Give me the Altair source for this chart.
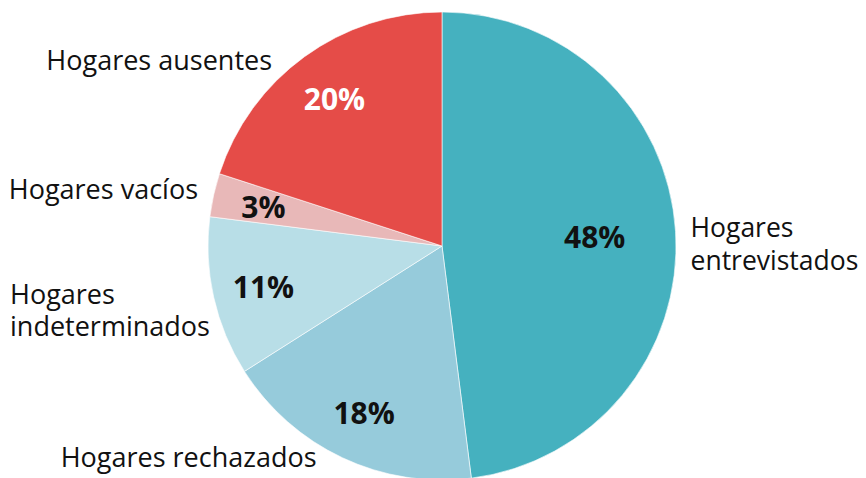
import altair as alt
import pandas as pd

categories = ["Hogares entrevistados", "Hogares rechazados", "Hogares indeterminados",
              "Hogares vacíos", "Hogares ausentes"]
labels = ["Hogares\nentrevistados", "Hogares rechazados", "Hogares\nindeterminados",
          "Hogares vacíos", "Hogares ausentes"]
values = [48, 18, 11, 3, 20]
colors = ["#45b1bf", "#96cbdb", "#b8dee7", "#e8b8b8", "#e54c48"]

df = pd.DataFrame({
    "cat": categories,
    "label": labels,
    "pct": values,
    "idx": list(range(len(categories))),
})

FONT = "Open Sans"
CX, CY = 434, 238
R = 234
theta_scale = alt.Scale(domain=[0, 100], range=[0, 6.283185307179586])

base = alt.Chart(df).transform_window(
    cum="sum(pct)", sort=[alt.SortField("idx")], frame=[None, 0]
).transform_calculate(
    start="datum.cum - datum.pct",
    mid="datum.cum - datum.pct / 2",
    ptxt="datum.pct + '%'",
    lr="datum.pct > 40 ? 153 : 183",
)

pie = base.mark_arc(outerRadius=R, stroke="white", strokeWidth=0.6).encode(
    theta=alt.Theta("start:Q", scale=theta_scale),
    theta2="cum:Q",
    color=alt.Color("cat:N", scale=alt.Scale(domain=categories, range=colors), legend=None),
    x=alt.value(CX),
    y=alt.value(CY),
)

pct_text = base.mark_text(font=FONT, fontSize=30, fontWeight="bold", baseline="middle",
                          align="center", dy=3).encode(
    theta=alt.Theta("mid:Q", scale=theta_scale),
    radius=alt.Radius("lr:Q", scale=None),
    text="ptxt:N",
    color=alt.condition("datum.cat == 'Hogares ausentes'", alt.value("white"), alt.value("#111111")),
    x=alt.value(CX),
    y=alt.value(CY),
)

def outer(cat, align, dx, dy, lh=32, fs=27):
    return base.transform_filter(alt.datum.cat == cat).mark_text(
        font=FONT, fontSize=fs, align=align, baseline="middle", lineBreak="\n",
        lineHeight=lh, dx=dx, dy=dy, color="#111111"
    ).encode(
        theta=alt.Theta("mid:Q", scale=theta_scale),
        radius=alt.value(250),
        text="label:N",
        x=alt.value(CX),
        y=alt.value(CY),
    )

layers = [
    pie, pct_text,
    outer("Hogares entrevistados", "left", -1, -1, 33, 26.5),
    outer("Hogares rechazados", "right", -19, -13),
    outer("Hogares indeterminados", "left", -188, -5),
    outer("Hogares vacíos", "right", 0, 0),
    outer("Hogares ausentes", "right", -23, 18),
]

chart = alt.layer(*layers).properties(
    width=850, height=470, padding=0, autosize="none"
).configure_view(stroke=None)

chart.save("out.html", embed_options={"renderer": "svg", "actions": False})
